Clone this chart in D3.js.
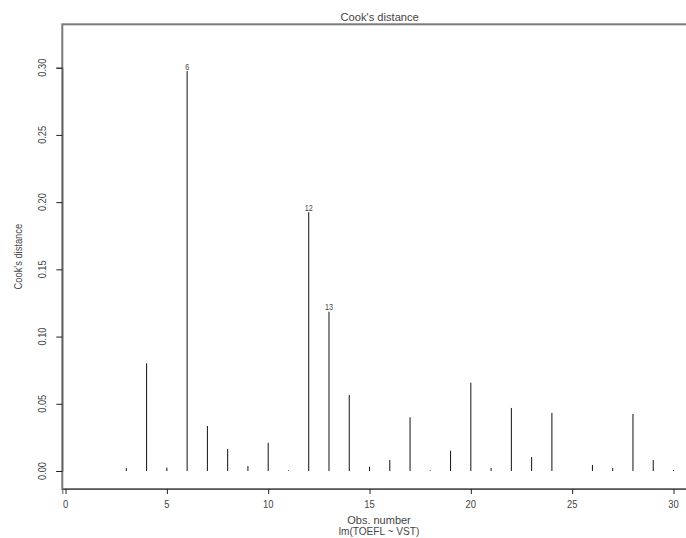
<!DOCTYPE html>
<html><head><meta charset="utf-8">
<script src="https://cdn.jsdelivr.net/npm/d3@7"></script>
<style>
html,body{margin:0;padding:0;background:#fff;}
svg text{font-family:"Liberation Sans",Arial,sans-serif;fill:#444;}
</style></head>
<body>
<svg id="chart" width="686" height="538"></svg>
<script>
const obs = d3.range(1, 31);
const cooks = [0.0000, 0.0000, 0.0022, 0.0801, 0.0025, 0.2975, 0.0335, 0.0164, 0.0037, 0.0210,
               0.0005, 0.1925, 0.1185, 0.0565, 0.0032, 0.0082, 0.0400, 0.0005, 0.0151, 0.0657,
               0.0022, 0.0469, 0.0104, 0.0432, 0.0000, 0.0045, 0.0022, 0.0424, 0.0082, 0.0007];
const labelled = [6, 12, 13];
const xTicks = [0, 5, 10, 15, 20, 25, 30];
const yTicks = [0.00, 0.05, 0.10, 0.15, 0.20, 0.25, 0.30];
const title = "Cook's distance";
const yLabel = "Cook's distance";
const xLabel = "Obs. number";
const subLabel = "lm(TOEFL ~ VST)";

const svg = d3.select("#chart");
const box = {left: 62.3, right: 697, top: 24.3, bottom: 489};
const x = d3.scaleLinear().domain([-0.16, 31.16]).range([box.left, box.right]);
const y = d3.scaleLinear().domain([0, 0.30]).range([471, 67.7]);

function label(g, px, py, txt, size, rot, sx) {
  const t = g.append("g").attr("transform", `translate(${px},${py}) rotate(${rot||0}) scale(${sx},1)`);
  t.append("text").attr("text-anchor", "middle").attr("dominant-baseline", "central")
    .attr("font-size", size).text(txt);
}

// bars
svg.append("g").selectAll("line").data(obs).join("line")
  .attr("x1", d => x(d)).attr("x2", d => x(d))
  .attr("y1", y(0)).attr("y2", (d, i) => y(cooks[i]))
  .attr("stroke", "#111").attr("stroke-width", 1);

// bar labels
labelled.forEach(k => label(svg, x(k), y(cooks[k - 1]) - 4, String(k), 8.5, 0, 0.85));

// box
svg.append("rect").attr("x", box.left).attr("y", box.top)
  .attr("width", box.right - box.left).attr("height", box.bottom - box.top)
  .attr("fill", "none").attr("stroke", "#7a7a7a").attr("stroke-width", 2);

// x axis
const xa = svg.append("g").attr("transform", `translate(0,${box.bottom})`)
  .call(d3.axisBottom(x).tickValues(xTicks).tickSize(5).tickFormat(""));
xa.select(".domain").attr("stroke", "#555");
xa.selectAll(".tick line").attr("stroke", "#222");
xTicks.forEach(v => label(svg, x(v), 504, String(v), 11.5, 0, 0.82));

// y axis
const ya = svg.append("g").attr("transform", `translate(${box.left},0)`)
  .call(d3.axisLeft(y).tickValues(yTicks).tickSize(6).tickFormat(""));
ya.select(".domain").attr("stroke", "#555");
ya.selectAll(".tick line").attr("stroke", "#222");
yTicks.forEach(v => label(svg, 42, y(v), d3.format(".2f")(v), 11.5, -90, 0.8));

// titles
label(svg, (box.left + box.right) / 2, 17, title, 11.5, 0, 0.97);
label(svg, 18, (box.top + box.bottom) / 2, yLabel, 11, -90, 0.85);
label(svg, 379, 520, xLabel, 11, 0, 1.0);
label(svg, 379, 531, subLabel, 11, 0, 0.92);
</script>
</body></html>
